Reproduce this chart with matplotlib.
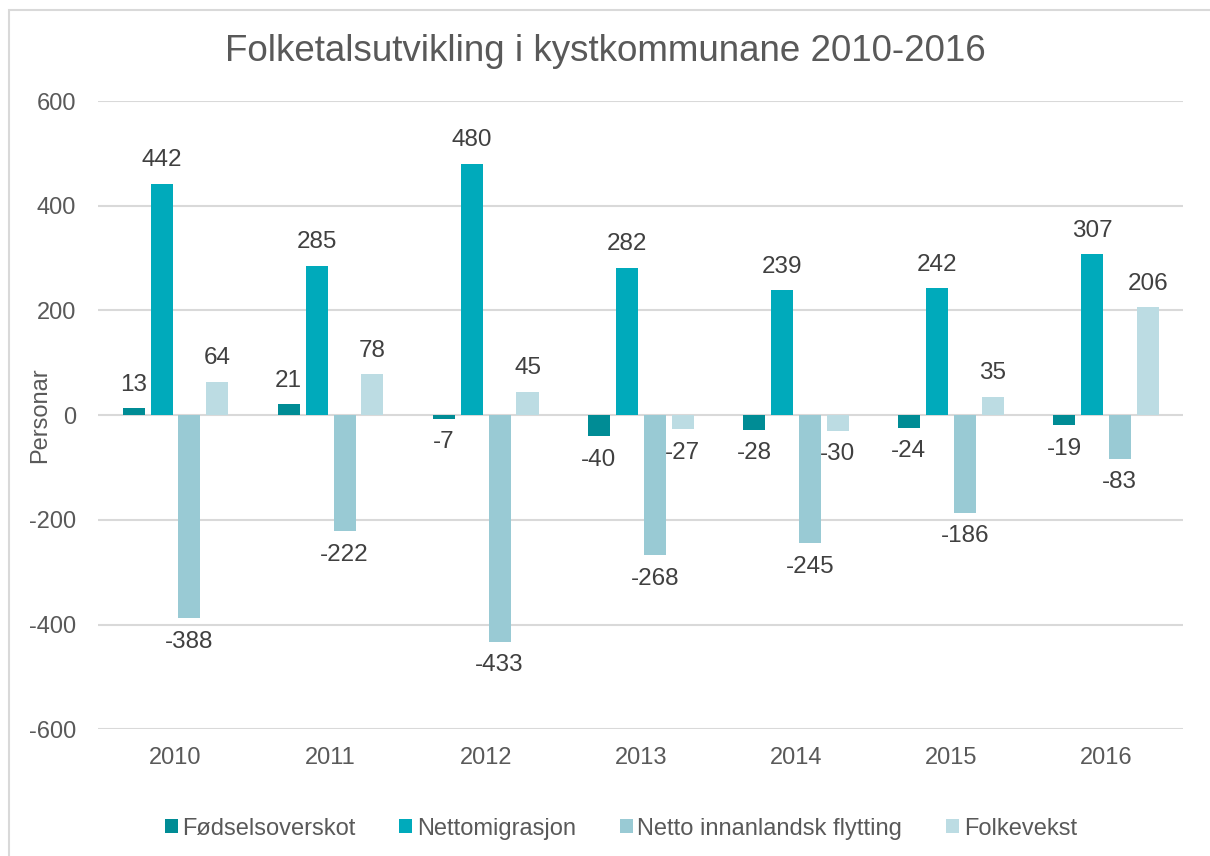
import numpy as np
import matplotlib.pyplot as plt
from matplotlib.patches import Rectangle

plt.rcParams['font.family'] = ['Liberation Sans', 'DejaVu Sans']

years = ['2010', '2011', '2012', '2013', '2014', '2015', '2016']
fodsel = [13, 21, -7, -40, -28, -24, -19]
nettomig = [442, 285, 480, 282, 239, 242, 307]
innanl = [-388, -222, -433, -268, -245, -186, -83]
folkevekst = [64, 78, 45, -27, -30, 35, 206]

series = [('Fødselsoverskot', fodsel, '#008C95'),
          ('Nettomigrasjon', nettomig, '#00AABB'),
          ('Netto innanlandsk flytting', innanl, '#99CAD4'),
          ('Folkevekst', folkevekst, '#BCDCE3')]

grey = '#595959'
fig = plt.figure(figsize=(12.1, 8.56), dpi=100)
# chart frame (cut off on the right and bottom)
fig.patches.append(Rectangle((9 / 1210, -0.1), 1.2, 1.1 - 10 / 856, transform=fig.transFigure,
                             fill=False, edgecolor='#D9D9D9', linewidth=1.5))
ax = fig.add_axes([0.081, 0.148, 0.897, 0.734])

x = np.arange(len(years))
w = 0.142
step = 0.18
for i, (name, vals, col) in enumerate(series):
    pos = x + (i - 1.5) * step
    ax.bar(pos, vals, w, color=col, label=name, zorder=3)
    for px, v in zip(pos, vals):
        ax.annotate(str(v), (px, v), xytext=(0, 9 if v >= 0 else -9),
                    textcoords='offset points', ha='center',
                    va='bottom' if v >= 0 else 'top', fontsize=17.5, color='#404040')

ax.set_ylim(-600, 600)
ax.set_xlim(-0.5, len(years) - 0.5)
ticks = list(range(-600, 601, 200))
ax.set_yticks(ticks)
ax.set_yticklabels([str(t) for t in ticks])
ax.set_xticks(x)
ax.set_xticklabels(years)
ax.tick_params(length=0, labelsize=17, colors=grey, pad=13)
ax.tick_params(axis='y', pad=16)
ax.yaxis.grid(True, color='#D9D9D9', linewidth=1.5, zorder=0)
for s in ax.spines.values():
    s.set_visible(False)
ax.set_ylabel('Personar', fontsize=17, color=grey)
ax.yaxis.set_label_coords(-0.043, 0.5)

fig.text(0.5, 0.94, 'Folketalsutvikling i kystkommunane 2010-2016', ha='center', va='center',
         fontsize=26.5, color=grey)
fig.legend(loc='center', bbox_to_anchor=(0.513, 0.032), ncol=4, frameon=False,
           fontsize=17, labelcolor=grey, handlelength=0.55, handleheight=0.55,
           handletextpad=0.2, columnspacing=1.85)

fig.savefig('out.png', dpi=100)
